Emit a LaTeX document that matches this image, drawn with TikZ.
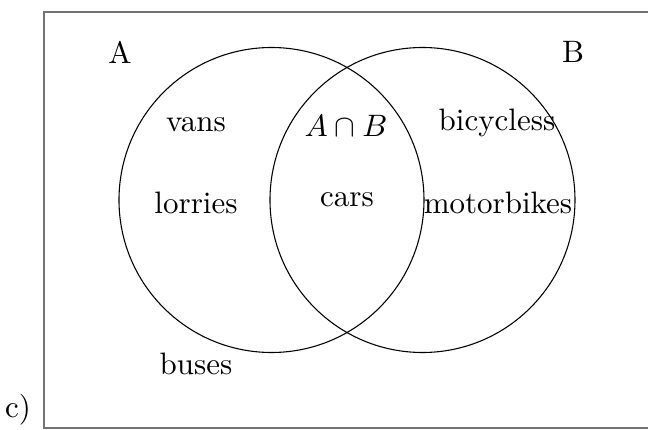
\documentclass[tikz,border=0pt]{standalone}
\begin{document}
\begin{tikzpicture}[x=0.3226pt,y=-0.3226pt,
  lbl/.style={inner sep=0pt,font=\fontsize{10}{12}\selectfont},
  frame/.style={draw=black!55,line width=0.45pt},
  setc/.style={draw=black,line width=0.35pt}]
\useasboundingbox (0,0) rectangle (649,430);
\coordinate (tr) at (648,12);
\coordinate (tl) at (44,12);
\coordinate (bl) at (44,428);
\coordinate (br) at (648,428);
\draw[frame] (tr) -- (tl) -- (bl) -- (br);
\node[setc,circle,minimum size=305*0.3226pt,inner sep=0pt] (CA) at (271.5,200) {};
\node[setc,circle,minimum size=305*0.3226pt,inner sep=0pt] (CB) at (422.5,200) {};
\node[lbl] (la) at (120,52) {A};
\node[lbl] (lb) at (573,52) {B};
\node[lbl] (vans) at (196,125) {vans};
\node[lbl] (ab) at (346,126) {$A\cap B$};
\node[lbl] (bic) at (497,123) {bicycless};
\node[lbl] (lor) at (196,203) {lorries};
\node[lbl] (cars) at (347,200) {cars};
\node[lbl] (mot) at (498,203) {motorbikes};
\node[lbl] (bus) at (196,364) {buses};
\node[lbl] (c) at (18,410) {c)};
\end{tikzpicture}
\end{document}
